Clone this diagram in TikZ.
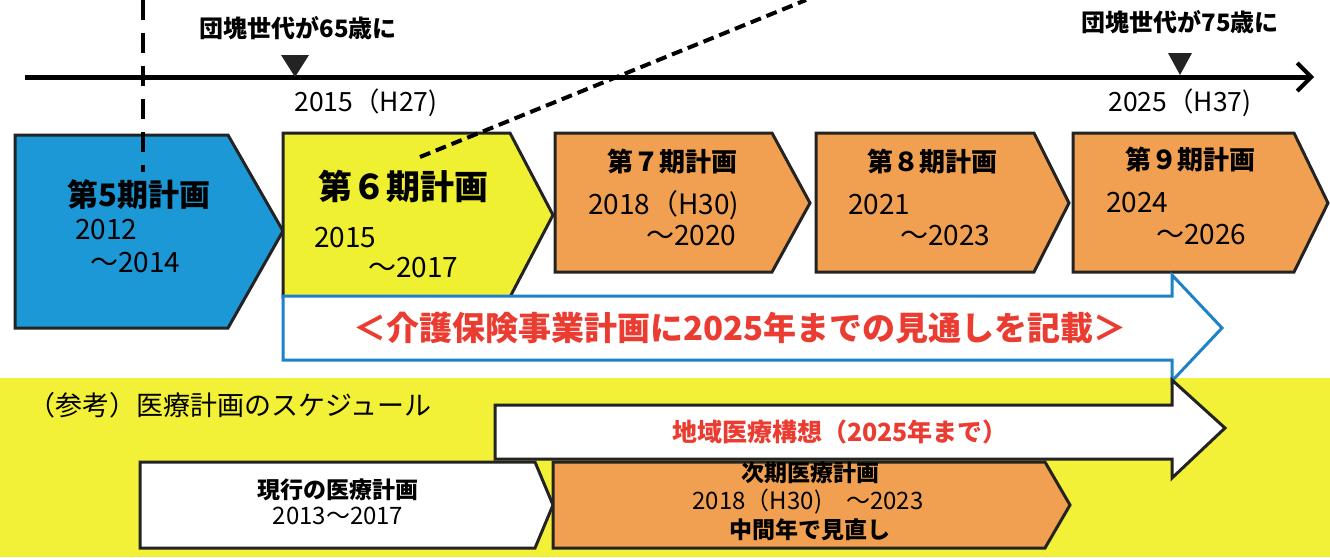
\documentclass[tikz,border=0pt]{standalone}
\usepackage{fontspec}
\setmainfont{Noto Sans CJK JP}
\usetikzlibrary{arrows.meta}
\definecolor{boxline}{RGB}{35,35,35}
\definecolor{bluebox}{RGB}{28,152,215}
\definecolor{yelbox}{RGB}{240,240,50}
\definecolor{orabox}{RGB}{240,160,80}
\definecolor{bandyellow}{RGB}{242,240,55}
\definecolor{redtxt}{RGB}{235,60,50}
\definecolor{arrblue}{RGB}{30,130,200}
\tikzset{
  box/.style={draw=boxline, line width=3pt, line join=miter},
  ttl/.style={font=\bfseries\fontsize{26}{30}\selectfont, inner sep=0pt},
  num/.style={font=\fontsize{28}{31}\selectfont, inner sep=0pt},
  tick/.style={font=\bfseries\fontsize{24}{28}\selectfont, inner sep=0pt},
  small/.style={font=\fontsize{24}{27}\selectfont, inner sep=0pt},
  smallb/.style={font=\bfseries\fontsize{23}{26}\selectfont, inner sep=0pt},
}
\begin{document}
\begin{tikzpicture}[x=1pt,y=-1pt]
\useasboundingbox (0,0) rectangle (1330,557);
\fill[white] (0,0) rectangle (1330,557);
\fill[bandyellow] (0,378) rectangle (1330,557);

% timeline
\coordinate (tlS) at (25,77);
\coordinate (tlE) at (1314,77);
\draw[line width=5pt, -{Straight Barb[length=14pt,width=28pt,line width=4pt]}] (tlS) -- (tlE);
\fill[boxline] (281,55) -- (309,55) -- (295,77) -- cycle;
\fill[boxline] (1168,53) -- (1192,53) -- (1180,75) -- cycle;
\node[tick] (a65) at (298,28) {団塊世代が65歳に};
\node[tick] (a75) at (1180,22) {団塊世代が75歳に};
\node[num, font=\fontsize{26.5}{29}\selectfont] (y2015) at (366,103) {2015（H27)};
\node[num, font=\fontsize{26.5}{29}\selectfont] (y2025) at (1180,103) {2025（H37)};

% period boxes
\draw[box, fill=bluebox] (15,135) -- (228,135) -- (283,231) -- (228,328) -- (15,328) -- cycle;
\coordinate (dvT) at (143,0);
\coordinate (dvB) at (143,172);
\draw[line width=3.5pt, dash pattern=on 20pt off 13pt] (dvT) -- (dvB);
\draw[box, fill=yelbox] (283,133) -- (510,133) -- (553,215) -- (510,297) -- (283,297) -- cycle;
\draw[box, fill=orabox] (555,133) -- (772,133) -- (810,203) -- (772,272) -- (555,272) -- cycle;
\draw[box, fill=orabox] (816,133) -- (1034,133) -- (1069,203) -- (1034,272) -- (816,272) -- cycle;
\draw[box, fill=orabox] (1073,133) -- (1294,133) -- (1328,203) -- (1294,272) -- (1073,272) -- cycle;

\node[ttl, font=\bfseries\fontsize{31}{34}\selectfont, anchor=west] (p5) at (67,195) {第5期計画};
\node[num, anchor=west] (p5a) at (75,230) {2012};
\node[num, anchor=west] (p5b) at (90,263) {～2014};
\node[ttl, font=\bfseries\fontsize{34}{38}\selectfont, anchor=west] (p6) at (318,186) {第６期計画};
\node[num, anchor=west] (p6a) at (314,238) {2015};
\node[num, anchor=west] (p6b) at (368,268) {～2017};
\node[ttl] (p7) at (672,162) {第７期計画};
\node[num, anchor=west] (p7a) at (588,205) {2018（H30)};
\node[num, anchor=west] (p7b) at (646,236) {～2020};
\node[ttl] (p8) at (932,162) {第８期計画};
\node[num, anchor=west] (p8a) at (848,205) {2021};
\node[num, anchor=west] (p8b) at (900,236) {～2023};
\node[ttl] (p9) at (1190,160) {第９期計画};
\node[num, anchor=west] (p9a) at (1106,203) {2024};
\node[num, anchor=west] (p9b) at (1156,235) {～2026};

% big arrow 1
\draw[line width=3pt, draw=arrblue, fill=white, line join=miter]
  (283,296) -- (1172,296) -- (1172,275) -- (1222,328) -- (1172,381) -- (1172,360) -- (283,360) -- cycle;
\node[font=\bfseries\fontsize{33}{36}\selectfont, text=redtxt, inner sep=0pt] (kaigo) at (740,328) {＜介護保険事業計画に2025年までの見通しを記載＞};

% dashed diagonal
\coordinate (ddS) at (420,157);
\coordinate (ddE) at (806,0);
\draw[line width=4pt, dash pattern=on 11pt off 6pt] (ddS) -- (ddE);

% lower section
\node[font=\fontsize{27}{30}\selectfont, anchor=west, inner sep=0pt] (ref) at (28,405) {（参考）医療計画のスケジュール};
\draw[line width=3pt, draw=boxline, fill=white, line join=miter]
  (495,405) -- (1172,405) -- (1172,380) -- (1225,428) -- (1172,478) -- (1172,459) -- (495,459) -- cycle;
\node[font=\bfseries\fontsize{25}{28}\selectfont, text=redtxt, inner sep=0pt] (chiiki) at (840,432) {地域医療構想（2025年まで）};

\draw[box, fill=white] (140,462) -- (535,462) -- (553,505) -- (535,548) -- (140,548) -- cycle;
\draw[box, fill=orabox] (553,462) -- (1045,462) -- (1070,505) -- (1045,548) -- (553,548) -- cycle;
\node[smallb] (gen) at (338,490) {現行の医療計画};
\node[small] (gena) at (338,516) {2013～2017};
\node[smallb] (ji) at (810,473) {次期医療計画};
\node[small] (jia) at (808,502) {2018（H30)　～2023};
\node[smallb] (jib) at (810,530) {中間年で見直し};
\end{tikzpicture}
\end{document}
